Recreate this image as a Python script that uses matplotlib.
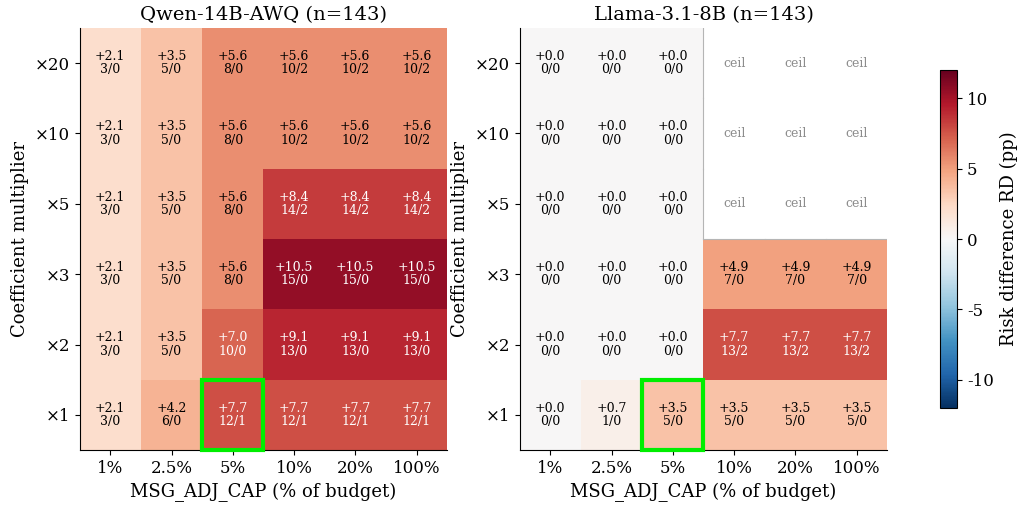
import numpy as np
import matplotlib
matplotlib.use("Agg")
import matplotlib.pyplot as plt
from matplotlib.patches import Rectangle

plt.rcParams['font.family'] = 'serif'
plt.rcParams['font.serif'] = ['DejaVu Serif']
plt.rcParams['axes.unicode_minus'] = False

caps = ["1%", "2.5%", "5%", "10%", "20%", "100%"]
mults = ["×1", "×2", "×3", "×5", "×10", "×20"]  # bottom to top

# values rows: ×1 (bottom) ... ×20 (top)
qwen_rd = [
    [2.1, 4.2, 7.7, 7.7, 7.7, 7.7],
    [2.1, 3.5, 7.0, 9.1, 9.1, 9.1],
    [2.1, 3.5, 5.6, 10.5, 10.5, 10.5],
    [2.1, 3.5, 5.6, 8.4, 8.4, 8.4],
    [2.1, 3.5, 5.6, 5.6, 5.6, 5.6],
    [2.1, 3.5, 5.6, 5.6, 5.6, 5.6],
]
qwen_cnt = [
    ["3/0", "6/0", "12/1", "12/1", "12/1", "12/1"],
    ["3/0", "5/0", "10/0", "13/0", "13/0", "13/0"],
    ["3/0", "5/0", "8/0", "15/0", "15/0", "15/0"],
    ["3/0", "5/0", "8/0", "14/2", "14/2", "14/2"],
    ["3/0", "5/0", "8/0", "10/2", "10/2", "10/2"],
    ["3/0", "5/0", "8/0", "10/2", "10/2", "10/2"],
]
llama_rd = [
    [0.0, 0.7, 3.5, 3.5, 3.5, 3.5],
    [0.0, 0.0, 0.0, 7.7, 7.7, 7.7],
    [0.0, 0.0, 0.0, 4.9, 4.9, 4.9],
    [0.0, 0.0, 0.0, None, None, None],
    [0.0, 0.0, 0.0, None, None, None],
    [0.0, 0.0, 0.0, None, None, None],
]
llama_cnt = [
    ["0/0", "1/0", "5/0", "5/0", "5/0", "5/0"],
    ["0/0", "0/0", "0/0", "13/2", "13/2", "13/2"],
    ["0/0", "0/0", "0/0", "7/0", "7/0", "7/0"],
    ["0/0", "0/0", "0/0", None, None, None],
    ["0/0", "0/0", "0/0", None, None, None],
    ["0/0", "0/0", "0/0", None, None, None],
]
titles = ["Qwen-14B-AWQ (n=143)", "Llama-3.1-8B (n=143)"]
highlight = (0, 2)  # row ×1, col 5%

fig = plt.figure(figsize=(10.21, 5.08), dpi=100)
axes = [fig.add_axes([0.078, 0.114, 0.360, 0.831]),
        fig.add_axes([0.509, 0.114, 0.360, 0.831])]
cax = fig.add_axes([0.921, 0.197, 0.0167, 0.665])

cmap = plt.get_cmap("RdBu_r")
vmin, vmax = -12, 12

for ax, rd, cnt, title in zip(axes, [qwen_rd, llama_rd], [qwen_cnt, llama_cnt], titles):
    arr = np.array([[np.nan if v is None else v for v in row] for row in rd], dtype=float)
    marr = np.ma.masked_invalid(arr)
    mesh = ax.pcolormesh(np.arange(len(caps) + 1), np.arange(len(mults) + 1), marr,
                         cmap=cmap, vmin=vmin, vmax=vmax)
    nr, nc = arr.shape
    for i in range(nr):
        for j in range(nc):
            v = arr[i, j]
            if np.isnan(v):
                ax.text(j + 0.5, i + 0.5, "ceil", ha="center", va="center",
                        fontsize=9, color="#8c8c8c")
            else:
                col = "white" if abs(v) > 6 else "black"
                ax.text(j + 0.5, i + 0.5, f"{v:+.1f}\n{cnt[i][j]}", ha="center", va="center",
                        fontsize=9, color=col, linespacing=1.05)
    mask = np.isnan(arr)
    for i in range(nr):
        for j in range(nc):
            if mask[i, j]:
                if j > 0 and not mask[i, j - 1]:
                    ax.plot([j, j], [i, i + 1], color="#b5b5b5", lw=0.8, zorder=3)
                if i > 0 and not mask[i - 1, j]:
                    ax.plot([j, j + 1], [i, i], color="#b5b5b5", lw=0.8, zorder=3)
    r, c = highlight
    ax.add_patch(Rectangle((c, r), 1, 1, fill=False,
                           edgecolor="#00ee00", lw=3, zorder=4, clip_on=False))
    ax.set_xlim(0, nc)
    ax.set_ylim(0, nr)
    ax.set_xticks(np.arange(nc) + 0.5)
    ax.set_xticklabels(caps, fontsize=12)
    ax.set_yticks(np.arange(nr) + 0.5)
    ax.set_yticklabels(mults, fontsize=12)
    ax.set_xlabel("MSG_ADJ_CAP (% of budget)", fontsize=13)
    ax.set_ylabel("Coefficient multiplier", fontsize=13)
    ax.set_title(title, fontsize=14)
    ax.spines["top"].set_visible(False)
    ax.spines["right"].set_visible(False)

cb = fig.colorbar(mesh, cax=cax)
cb.set_ticks([-10, -5, 0, 5, 10])
cb.ax.tick_params(labelsize=12)
cb.set_label("Risk difference RD (pp)", fontsize=13)

fig.savefig("out.png", dpi=100)
